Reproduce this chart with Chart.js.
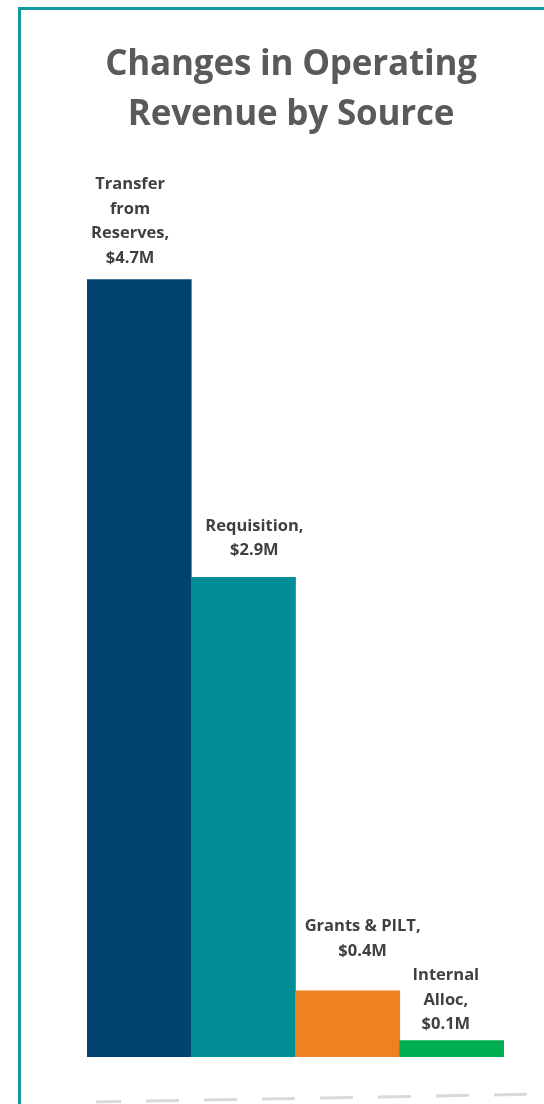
<!DOCTYPE html>
<html>
<head>
<meta charset="utf-8">
<script src="https://cdn.jsdelivr.net/npm/chart.js@4.4.0/dist/chart.umd.min.js"></script>
<style>
  html, body { margin: 0; padding: 0; background: #ffffff; }
  body { width: 544px; height: 1104px; position: relative; overflow: hidden; }
  #frame {
    position: absolute; left: 18px; top: 7px; right: 0; bottom: 0;
    border-left: 3px solid #1199a1; border-top: 3px solid #1199a1;
  }
  #title {
    position: absolute; left: 81px; width: 420px; top: 37px;
    text-align: center; font-family: 'Open Sans', sans-serif; font-weight: 700;
    font-size: 35px; line-height: 50px; color: #5a5a5a; letter-spacing: -0.2px;
  }
  #wrap { position: absolute; left: 0; top: 0; width: 544px; height: 1104px; }
</style>
</head>
<body>
<div id="frame"></div>
<div id="wrap"><canvas id="chart" width="544" height="1104"></canvas></div>
<div id="title">Changes in Operating<br>Revenue by Source</div>
<script>
  // data
  const categories = [
    ['Transfer', 'from', 'Reserves,'],
    ['Requisition,'],
    ['Grants & PILT,'],
    ['Internal', 'Alloc,']
  ];
  const values = [4.7, 2.9, 0.4, 0.1]; // $M
  const barColors = ['#00436f', '#008d96', '#ee8220', '#00ad4f'];

  // label placement tweaks (dx from bar centre, gap above bar top)
  const labelShift = [[-9, 17], [11, 22], [15, 35], [-6, 11]];

  const valueLabels = {
    id: 'valueLabels',
    afterDatasetsDraw(chart) {
      const ctx = chart.ctx;
      const meta = chart.getDatasetMeta(0);
      ctx.save();
      ctx.font = 'bold 16.5px "Open Sans", sans-serif';
      ctx.fillStyle = '#404040';
      ctx.textAlign = 'center';
      ctx.textBaseline = 'alphabetic';
      meta.data.forEach((bar, i) => {
        const lines = categories[i].concat(['$' + values[i].toFixed(1) + 'M']);
        const x = bar.x + labelShift[i][0];
        let y = bar.y - labelShift[i][1];
        for (let k = lines.length - 1; k >= 0; k--) {
          ctx.fillText(lines[k], x, y);
          y -= 24.5;
        }
      });
      ctx.restore();
    }
  };

  // faint dashed rule near the bottom of the slide
  const bottomRule = {
    id: 'bottomRule',
    beforeDraw(chart) {
      const ctx = chart.ctx;
      ctx.save();
      ctx.strokeStyle = '#d9d9d9';
      ctx.lineWidth = 3;
      ctx.setLineDash([33, 25]);
      ctx.lineDashOffset = 8;
      ctx.beginPath();
      ctx.moveTo(96, 1102);
      ctx.lineTo(544, 1094);
      ctx.stroke();
      ctx.restore();
    }
  };

  new Chart(document.getElementById('chart').getContext('2d'), {
    type: 'bar',
    data: {
      labels: categories,
      datasets: [{
        data: values,
        backgroundColor: barColors,
        borderWidth: 0,
        barPercentage: 1,
        categoryPercentage: 1
      }]
    },
    options: {
      responsive: false,
      animation: false,
      layout: { padding: { left: 87, right: 40, top: 230, bottom: 47 } },
      scales: {
        x: { display: false },
        y: { display: false, min: 0, max: 5 }
      },
      plugins: {
        legend: { display: false },
        tooltip: { enabled: false }
      }
    },
    plugins: [bottomRule, valueLabels]
  });
</script>
</body>
</html>
